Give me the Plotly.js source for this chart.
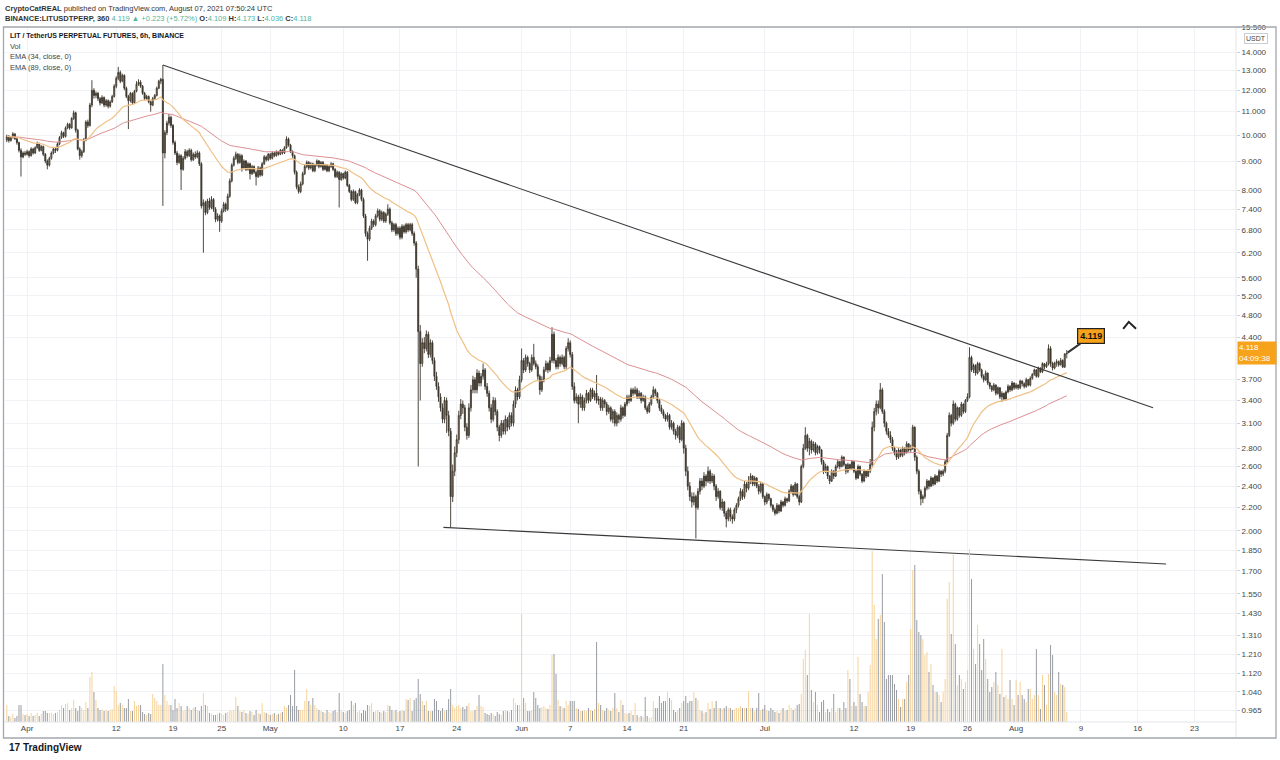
<!DOCTYPE html>
<html>
<head>
<meta charset="utf-8">
<script src="https://cdn.plot.ly/plotly-3.0.1.min.js"></script>
<style>html,body{margin:0;padding:0;background:#fff;}#chart{width:1280px;height:760px;}</style>
</head>
<body>
<div id="chart"></div>
<script>
// ---- DATA: LIT/USDT perpetual, 6h candles from 2021-03-29 12:00 UTC ----
const firstCandle = '2021-03-29T12:00:00Z';
const open = [
9.80,9.95, 9.78,9.90,10.05,9.85, 9.70,9.40,9.15,9.30, 9.25,9.35,9.20,9.45, 9.30,9.50,9.65,9.40,
9.55,9.25,9.00,8.85, 9.10,9.30,9.45,9.40, 9.65,9.90,10.10,9.95, 10.30,10.45,10.30,10.70, 10.95,10.20,9.45,9.20,
9.35,9.80,10.55,10.40, 11.30,12.00,11.75,11.85, 11.60,11.40,11.65,11.30, 11.50,11.25,11.45,11.70, 12.20,12.60,12.90,12.45,
12.75,12.10,11.70,11.50, 11.85,11.40,11.95,12.30, 12.40,12.20,11.85,11.60, 11.70,11.45,11.30,11.60, 11.75,12.10,12.45,12.55,
9.30,10.10,10.50,10.75, 10.40,9.70,9.30,8.95, 9.20,8.70,9.10,9.35, 9.20,9.40,9.05,9.25, 9.15,9.30,8.90,7.50,
7.60,7.30,7.65,7.45, 7.70,7.40,7.10,7.20, 7.05,7.35,7.55,7.40, 7.80,8.30,8.85,9.10, 9.25,8.95,9.20,8.75,
9.00,8.70,8.90,8.55, 8.80,8.60,8.45,8.75, 8.50,8.90,9.15,9.05, 9.25,9.10,9.30,9.20, 9.35,9.25,9.40,9.30,
9.50,9.85,9.60,9.35, 9.20,8.60,8.10,7.95, 8.20,8.55,8.80,8.95, 8.75,8.90,8.65,8.85, 9.00,8.80,8.95,8.70,
8.85,8.65,8.80,8.90, 8.70,8.45,8.60,8.35, 8.55,8.40,8.60,8.15, 7.95,7.70,7.95,7.60, 7.85,8.00,7.70,7.20,
6.70,6.55,6.85,7.05, 6.95,7.20,7.35,7.10, 7.30,7.05,7.25,7.40, 7.00,6.80,6.95,6.70, 6.85,6.60,6.90,6.75,
6.95,6.80,6.95,6.70, 6.45,5.80,4.50,3.95, 4.30,4.20,4.45,4.10, 4.30,4.00,3.75,3.60, 3.45,3.30,3.15,3.40,
3.20,3.00,2.30,2.55, 2.75,2.90,3.20,3.35, 3.30,3.05,2.95,3.30, 3.55,3.70,3.55,3.80, 3.65,3.75,3.85,3.60,
3.50,3.30,3.15,3.40, 3.25,3.05,2.95,3.10, 3.00,3.15,3.05,3.20, 3.10,3.35,3.55,3.45, 3.70,4.00,3.85,4.05,
3.95,3.85,4.05,3.95, 3.90,3.75,3.55,3.70, 3.85,3.95,3.85,4.00, 4.45,4.00,3.90,4.05, 3.95,4.05,3.90,4.20,
4.30,4.10,3.60,3.40, 3.45,3.35,3.45,3.30, 3.40,3.50,3.40,3.55, 3.45,3.50,3.40,3.42, 3.30,3.40,3.35,3.25,
3.30,3.15,3.25,3.10, 3.20,3.15,3.30,3.20, 3.35,3.45,3.40,3.55, 3.50,3.55,3.45,3.50, 3.40,3.45,3.30,3.25,
3.35,3.45,3.55,3.50, 3.40,3.30,3.25,3.20, 3.15,3.20,3.05,3.10, 3.00,2.95,3.05,2.90, 3.10,2.80,2.55,2.40,
2.30,2.25,2.30,2.20, 2.35,2.45,2.40,2.50, 2.45,2.55,2.45,2.50, 2.40,2.30,2.35,2.20, 2.25,2.15,2.10,2.18,
2.12,2.10,2.18,2.22, 2.28,2.35,2.30,2.42, 2.38,2.45,2.50,2.42, 2.48,2.40,2.35,2.42, 2.30,2.25,2.32,2.28,
2.22,2.18,2.15,2.22, 2.17,2.25,2.22,2.28, 2.26,2.35,2.40,2.32, 2.42,2.30,2.25,2.60, 2.80,2.95,2.80,2.88,
2.78,2.85,2.75,2.82, 2.78,2.65,2.55,2.60, 2.50,2.45,2.55,2.50, 2.60,2.65,2.60,2.70, 2.62,2.55,2.62,2.58,
2.65,2.55,2.48,2.60, 2.52,2.45,2.55,2.50, 2.55,2.62,3.05,3.25, 3.35,3.30,3.55,3.25, 3.10,3.00,2.95,2.90,
2.80,2.75,2.70,2.78, 2.72,2.80,2.75,2.85, 2.78,2.80,3.05,2.70, 2.55,2.35,2.28,2.30, 2.38,2.45,2.40,2.48,
2.42,2.50,2.45,2.55, 2.52,2.55,2.65,2.95, 3.20,3.10,3.35,3.15, 3.30,3.20,3.35,3.25, 3.40,3.45,4.05,3.85,
3.92,3.80,3.95,3.85, 3.75,3.70,3.80,3.65, 3.60,3.55,3.62,3.50, 3.58,3.45,3.50,3.42, 3.52,3.60,3.55,3.65,
3.58,3.62,3.58,3.68, 3.64,3.60,3.70,3.62, 3.72,3.78,3.85,3.75, 3.88,3.82,3.95,3.90, 3.94,4.20,3.95,3.88,
3.96,3.98,3.93,4.00, 3.896,4.109
];
const high = [
10.02,10.00, 9.95,10.12,10.08,9.88, 9.74,9.48,9.36,9.38, 9.42,9.40,9.52,9.50, 9.56,9.74,9.70,9.60,
9.58,9.30,9.06,9.16, 9.36,9.52,9.50,9.72, 9.96,10.18,10.14,10.36, 10.52,10.50,10.76,11.05, 11.00,10.26,9.52,9.42,
9.88,10.62,10.65,11.40, 12.50,12.10,11.95,11.92, 11.68,11.76,11.70,11.58, 11.56,11.52,11.78,12.30, 12.70,13.20,13.00,12.84,
12.80,12.18,11.78,11.92, 11.90,12.02,12.45,12.55, 12.50,12.26,11.92,11.78, 11.75,11.50,11.68,11.82, 12.18,12.52,12.62,13.30,
10.20,10.60,10.90,10.82, 10.46,9.78,9.38,9.28, 9.25,9.18,9.45,9.42, 9.48,9.46,9.32,9.36, 9.40,9.36,8.96,7.70,
7.66,7.72,7.75,7.80, 7.74,7.46,7.28,7.24, 7.42,7.62,7.60,7.88, 8.38,8.92,9.18,9.35, 9.30,9.28,9.25,9.06,
9.04,8.96,8.94,8.86, 8.84,8.66,8.82,8.80, 8.96,9.22,9.20,9.30, 9.30,9.36,9.34,9.40, 9.38,9.45,9.44,9.56,
9.95,9.90,9.65,9.40, 9.24,8.66,8.18,8.28, 8.62,8.86,9.02,9.00, 8.96,8.94,8.90,9.06, 9.04,9.00,9.00,8.90,
8.88,8.85,8.96,8.94, 8.74,8.66,8.64,8.60, 8.58,8.66,8.64,8.20, 8.00,8.02,7.98,7.90, 8.06,8.04,7.76,7.26,
6.76,6.92,7.12,7.10, 7.26,7.42,7.40,7.36, 7.34,7.30,7.55,7.45, 7.06,7.00,7.00,6.90, 6.90,6.96,6.95,7.00,
7.00,7.00,7.00,6.76, 6.50,5.88,4.62,4.38, 4.40,4.52,4.50,4.36, 4.34,4.05,3.82,3.66, 3.50,3.36,3.45,3.44,
3.26,3.04,2.62,2.82, 2.96,3.26,3.42,3.40, 3.34,3.10,3.36,3.62, 3.76,3.74,3.86,3.84, 3.80,3.95,3.88,3.65,
3.54,3.35,3.45,3.44, 3.28,3.08,3.14,3.14, 3.20,3.18,3.24,3.24, 3.40,3.60,3.58,3.76, 4.20,4.04,4.10,4.08,
3.98,4.10,4.28,4.00, 3.94,3.78,3.75,3.90, 4.00,3.98,4.06,4.58, 4.50,4.04,4.10,4.08, 4.10,4.08,4.24,4.38,
4.34,4.14,3.66,3.50, 3.48,3.50,3.48,3.44, 3.55,3.52,3.58,3.58, 3.54,3.77,3.46,3.45, 3.44,3.42,3.38,3.34,
3.32,3.28,3.28,3.24, 3.22,3.34,3.32,3.38, 3.48,3.48,3.58,3.58, 3.60,3.58,3.54,3.52, 3.48,3.47,3.33,3.38,
3.48,3.60,3.57,3.52, 3.42,3.34,3.28,3.22, 3.24,3.22,3.14,3.12, 3.03,3.08,3.07,3.14, 3.12,2.84,2.60,2.44,
2.34,2.34,2.32,2.38, 2.48,2.48,2.54,2.52, 2.60,2.57,2.53,2.52, 2.42,2.38,2.36,2.28, 2.26,2.17,2.20,2.20,
2.14,2.20,2.24,2.30, 2.38,2.37,2.45,2.44, 2.50,2.53,2.51,2.50, 2.49,2.42,2.44,2.43, 2.31,2.34,2.33,2.29,
2.23,2.20,2.24,2.23, 2.27,2.26,2.30,2.29, 2.37,2.42,2.41,2.44, 2.43,2.32,2.62,2.85, 3.05,2.97,2.92,2.90,
2.88,2.87,2.84,2.83, 2.79,2.67,2.63,2.61, 2.51,2.57,2.56,2.62, 2.67,2.66,2.72,2.71, 2.63,2.64,2.63,2.67,
2.66,2.56,2.62,2.61, 2.53,2.57,2.56,2.57, 2.68,3.12,3.30,3.40, 3.40,3.65,3.58,3.28, 3.12,3.04,3.00,2.93,
2.82,2.78,2.80,2.79, 2.82,2.81,2.88,2.86, 2.84,3.08,3.06,2.72, 2.57,2.37,2.32,2.40, 2.47,2.46,2.50,2.49,
2.52,2.51,2.57,2.56, 2.57,2.67,2.98,3.24, 3.22,3.40,3.37,3.32, 3.31,3.38,3.36,3.42, 3.50,4.22,4.08,3.95,
3.94,3.98,3.97,3.87, 3.78,3.84,3.81,3.67, 3.62,3.65,3.63,3.60, 3.59,3.53,3.51,3.54, 3.63,3.62,3.68,3.66,
3.65,3.63,3.70,3.69, 3.66,3.73,3.71,3.75, 3.80,3.87,3.86,3.90, 3.89,3.97,3.96,3.98, 4.27,4.24,3.98,3.98,
4.02,4.00,4.04,4.02, 4.12,4.173
];
const low = [
9.72,9.70, 9.74,9.86,9.80,9.62, 9.32,8.45,9.10,9.18, 9.20,9.12,9.16,9.24, 9.26,9.46,9.34,9.36,
9.18,8.92,8.70,8.80, 9.05,9.25,9.30,9.36, 9.60,9.85,9.88,9.90, 10.24,10.22,10.26,10.64, 10.10,9.40,9.05,9.12,
9.30,9.75,10.30,10.35, 11.20,11.60,11.62,11.48, 11.28,11.35,11.20,11.22, 11.15,11.18,11.40,11.65, 12.10,12.50,12.35,12.40,
12.00,11.62,10.25,11.42, 11.32,11.36,11.90,12.22, 12.12,11.78,11.52,11.54, 11.38,11.00,11.25,11.55, 11.70,12.05,12.30,7.50,
9.10,10.00,10.40,10.30, 9.62,9.22,8.85,8.90, 8.00,8.65,9.05,9.12, 9.15,8.98,9.00,9.08, 9.10,8.82,7.42,6.20,
7.22,7.25,7.38,7.40, 7.32,7.02,7.04,6.75, 7.00,7.30,7.32,7.35, 7.75,8.25,8.80,9.04, 8.88,8.90,8.62,8.70,
8.64,8.65,8.35,8.50, 8.54,8.15,8.40,8.44, 8.46,8.86,8.98,9.00, 9.04,9.06,9.14,9.16, 9.20,9.22,9.24,9.26,
9.46,9.54,9.30,9.12, 8.52,8.02,7.88,7.90, 8.15,8.50,8.74,8.68, 8.70,8.60,8.60,8.80, 8.74,8.76,8.64,8.66,
8.60,8.60,8.75,8.64, 8.40,8.40,7.45,8.30, 8.34,8.36,8.10,7.90, 7.64,7.65,7.55,7.55, 7.80,7.64,7.14,6.62,
6.00,6.50,6.80,6.88, 6.90,7.15,7.04,7.05, 7.00,7.00,7.20,6.95, 6.74,6.75,6.64,6.65, 6.54,6.55,6.70,6.70,
6.74,6.76,6.64,6.38, 5.60,2.60,3.40,3.90, 4.12,4.15,4.04,4.05, 3.94,3.68,3.55,3.38, 3.25,3.10,3.10,2.98,
2.94,2.03,2.25,2.50, 2.70,2.85,3.15,3.22, 3.00,2.90,2.92,3.25, 3.50,3.50,3.50,3.60, 3.60,3.70,3.55,3.45,
3.25,3.10,3.12,3.20, 3.00,2.88,2.92,2.96, 2.96,3.00,3.02,3.06, 3.06,3.30,3.40,3.42, 3.66,3.80,3.82,3.90,
3.80,3.82,3.92,3.86, 3.70,3.48,3.52,3.66, 3.82,3.80,3.82,3.96, 3.95,3.86,3.86,3.90, 3.92,3.86,3.86,4.15,
4.05,3.55,3.36,3.36, 3.10,3.30,3.26,3.26, 3.36,3.36,3.38,3.42, 3.40,3.36,3.34,3.26, 3.26,3.30,3.20,3.22,
3.12,3.10,3.06,3.06, 3.10,3.12,3.16,3.18, 3.32,3.36,3.38,3.46, 3.48,3.42,3.42,3.36, 3.38,3.27,3.22,3.23,
3.33,3.42,3.46,3.36, 3.26,3.22,3.16,3.12, 3.12,3.02,3.02,2.96, 2.90,2.92,2.86,2.88, 2.74,2.50,2.36,2.26,
2.20,2.22,1.94,2.18, 2.32,2.36,2.38,2.40, 2.43,2.42,2.43,2.36, 2.26,2.28,2.18,2.17, 2.12,2.03,2.08,2.08,
2.06,2.08,2.15,2.20, 2.26,2.27,2.28,2.34, 2.36,2.42,2.40,2.40, 2.38,2.32,2.33,2.28, 2.22,2.23,2.26,2.20,
2.16,2.13,2.14,2.15, 2.16,2.20,2.21,2.24, 2.25,2.33,2.30,2.31, 2.28,2.22,2.24,2.58, 2.78,2.76,2.72,2.74,
2.76,2.72,2.73,2.74, 2.62,2.52,2.53,2.47, 2.42,2.44,2.47,2.49, 2.58,2.57,2.59,2.60, 2.52,2.53,2.56,2.57,
2.53,2.46,2.47,2.50, 2.43,2.44,2.48,2.49, 2.53,2.60,3.00,3.20, 3.22,3.28,3.22,3.05, 2.96,2.92,2.86,2.77,
2.72,2.67,2.68,2.70, 2.70,2.72,2.74,2.76, 2.76,2.78,2.66,2.52, 2.32,2.22,2.24,2.28, 2.36,2.37,2.39,2.40,
2.41,2.43,2.44,2.49, 2.50,2.53,2.63,2.93, 3.06,3.08,3.12,3.13, 3.17,3.18,3.22,3.23, 3.38,3.43,3.82,3.80,
3.76,3.78,3.82,3.72, 3.66,3.68,3.62,3.56, 3.52,3.53,3.47,3.48, 3.42,3.38,3.40,3.40, 3.50,3.52,3.53,3.55,
3.56,3.55,3.56,3.60, 3.57,3.58,3.60,3.60, 3.70,3.76,3.73,3.73, 3.80,3.80,3.86,3.88, 3.92,3.90,3.84,3.86,
3.90,3.90,3.92,3.88, 3.88,4.036
];
const close = [
9.95,9.78, 9.90,10.05,9.85,9.70, 9.40,9.15,9.30,9.25, 9.35,9.20,9.45,9.30, 9.50,9.65,9.40,9.55,
9.25,9.00,8.85,9.10, 9.30,9.45,9.40,9.65, 9.90,10.10,9.95,10.30, 10.45,10.30,10.70,10.95, 10.20,9.45,9.20,9.35,
9.80,10.55,10.40,11.30, 12.00,11.75,11.85,11.60, 11.40,11.65,11.30,11.50, 11.25,11.45,11.70,12.20, 12.60,12.90,12.45,12.75,
12.10,11.70,11.50,11.85, 11.40,11.95,12.30,12.40, 12.20,11.85,11.60,11.70, 11.45,11.30,11.60,11.75, 12.10,12.45,12.55,9.30,
10.10,10.50,10.75,10.40, 9.70,9.30,8.95,9.20, 8.70,9.10,9.35,9.20, 9.40,9.05,9.25,9.15, 9.30,8.90,7.50,7.60,
7.30,7.65,7.45,7.70, 7.40,7.10,7.20,7.05, 7.35,7.55,7.40,7.80, 8.30,8.85,9.10,9.25, 8.95,9.20,8.75,9.00,
8.70,8.90,8.55,8.80, 8.60,8.45,8.75,8.50, 8.90,9.15,9.05,9.25, 9.10,9.30,9.20,9.35, 9.25,9.40,9.30,9.50,
9.85,9.60,9.35,9.20, 8.60,8.10,7.95,8.20, 8.55,8.80,8.95,8.75, 8.90,8.65,8.85,9.00, 8.80,8.95,8.70,8.85,
8.65,8.80,8.90,8.70, 8.45,8.60,8.35,8.55, 8.40,8.60,8.15,7.95, 7.70,7.95,7.60,7.85, 8.00,7.70,7.20,6.70,
6.55,6.85,7.05,6.95, 7.20,7.35,7.10,7.30, 7.05,7.25,7.40,7.00, 6.80,6.95,6.70,6.85, 6.60,6.90,6.75,6.95,
6.80,6.95,6.70,6.45, 5.80,4.50,3.95,4.30, 4.20,4.45,4.10,4.30, 4.00,3.75,3.60,3.45, 3.30,3.15,3.40,3.20,
3.00,2.30,2.55,2.75, 2.90,3.20,3.35,3.30, 3.05,2.95,3.30,3.55, 3.70,3.55,3.80,3.65, 3.75,3.85,3.60,3.50,
3.30,3.15,3.40,3.25, 3.05,2.95,3.10,3.00, 3.15,3.05,3.20,3.10, 3.35,3.55,3.45,3.70, 4.00,3.85,4.05,3.95,
3.85,4.05,3.95,3.90, 3.75,3.55,3.70,3.85, 3.95,3.85,4.00,4.45, 4.00,3.90,4.05,3.95, 4.05,3.90,4.20,4.30,
4.10,3.60,3.40,3.45, 3.35,3.45,3.30,3.40, 3.50,3.40,3.55,3.45, 3.50,3.40,3.42,3.30, 3.40,3.35,3.25,3.30,
3.15,3.25,3.10,3.20, 3.15,3.30,3.20,3.35, 3.45,3.40,3.55,3.50, 3.55,3.45,3.50,3.40, 3.45,3.30,3.25,3.35,
3.45,3.55,3.50,3.40, 3.30,3.25,3.20,3.15, 3.20,3.05,3.10,3.00, 2.95,3.05,2.90,3.10, 2.80,2.55,2.40,2.30,
2.25,2.30,2.20,2.35, 2.45,2.40,2.50,2.45, 2.55,2.45,2.50,2.40, 2.30,2.35,2.20,2.25, 2.15,2.10,2.18,2.12,
2.10,2.18,2.22,2.28, 2.35,2.30,2.42,2.38, 2.45,2.50,2.42,2.48, 2.40,2.35,2.42,2.30, 2.25,2.32,2.28,2.22,
2.18,2.15,2.22,2.17, 2.25,2.22,2.28,2.26, 2.35,2.40,2.32,2.42, 2.30,2.25,2.60,2.80, 2.95,2.80,2.88,2.78,
2.85,2.75,2.82,2.78, 2.65,2.55,2.60,2.50, 2.45,2.55,2.50,2.60, 2.65,2.60,2.70,2.62, 2.55,2.62,2.58,2.65,
2.55,2.48,2.60,2.52, 2.45,2.55,2.50,2.55, 2.62,3.05,3.25,3.35, 3.30,3.55,3.25,3.10, 3.00,2.95,2.90,2.80,
2.75,2.70,2.78,2.72, 2.80,2.75,2.85,2.78, 2.80,3.05,2.70,2.55, 2.35,2.28,2.30,2.38, 2.45,2.40,2.48,2.42,
2.50,2.45,2.55,2.52, 2.55,2.65,2.95,3.20, 3.10,3.35,3.15,3.30, 3.20,3.35,3.25,3.40, 3.45,4.05,3.85,3.92,
3.80,3.95,3.85,3.75, 3.70,3.80,3.65,3.60, 3.55,3.62,3.50,3.58, 3.45,3.50,3.42,3.52, 3.60,3.55,3.65,3.58,
3.62,3.58,3.68,3.64, 3.60,3.70,3.62,3.72, 3.78,3.85,3.75,3.88, 3.82,3.95,3.90,3.94, 4.20,3.95,3.88,3.96,
3.98,3.93,4.00,3.896, 4.109,4.118
];
const volume = [
17,6, 5,8,4,6, 17,17,8,7, 8,6,9,6, 7,9,6,8,
11,11,9,9, 9,8,9,10, 12,17,14,18, 19,12,14,22, 14,11,16,14,
12,20,14,45, 50,30,22,14, 12,13,11,12, 11,12,13,36, 31,17,19,17,
14,14,23,11, 11,21,16,17, 17,10,8,7, 9,8,28,24, 21,17,17,58,
27,21,17,17, 12,23,14,19, 16,11,12,16, 14,12,14,15, 12,11,16,29,
17,16,9,8, 7,7,8,9, 8,7,9,10, 12,11,12,25, 16,11,10,12,
9,8,11,10, 7,12,9,8, 19,10,9,8, 7,8,9,7, 8,9,10,16,
14,17,27,16, 52,16,12,12, 12,21,33,21, 17,24,17,14, 12,11,10,9,
12,10,9,11, 12,10,29,12, 10,9,11,12, 21,17,19,10, 11,9,12,11,
17,16,19,10, 11,12,10,9, 11,10,17,16, 12,11,12,10, 11,12,11,23,
22,24,11,22, 24,43,28,21, 17,21,11,11, 11,23,21,12, 11,14,11,12,
23,33,17,14, 16,17,14,15, 13,16,19,11, 11,12,16,27, 16,15,9,8,
7,9,8,6, 10,8,7,11, 12,11,10,12, 24,19,17,17, 108,24,19,11,
11,12,30,24, 17,14,15,16, 14,13,17,67, 68,48,22,16, 15,14,21,17,
21,21,21,14, 13,11,11,12, 11,14,12,11, 13,80,19,17, 12,11,14,12,
11,14,29,14, 10,22,17,9, 8,9,11,7, 19,7,5,6, 5,25,6,4,
5,21,14,14, 26,19,21,21, 30,24,22,12, 10,12,14,19, 21,26,19,21,
21,30,24,22, 12,11,9,10, 19,13,21,14, 21,14,14,13, 14,16,14,14,
12,13,14,14, 16,14,14,14, 31,14,14,11, 14,29,12,13, 17,12,11,14,
12,10,11,9, 12,14,11,12, 17,14,12,14, 17,18,28,63, 72,47,108,32,
20,30,17,10, 20,22,10,13, 10,14,28,10, 14,14,12,20, 14,52,43,16,
20,16,65,28, 20,16,16,30, 57,171,117,83, 103,107,148,100, 43,47,47,47,
38,32,23,15, 23,23,40,47, 93,152,157,102, 90,87,83,67, 70,50,58,37,
30,30,27,20, 30,43,123,140, 88,167,78,37, 47,43,33,40, 52,173,143,73,
58,97,78,52, 83,63,43,30, 35,40,50,37, 28,73,25,27, 23,42,23,17,
42,27,40,27, 23,20,33,33, 23,27,73,27, 13,47,37,17, 48,77,67,30,
27,50,38,37, 35,10
];

// drawn trend lines and marker (chart drawings)
const upperLineX = ['2021-04-17 18:00', '2021-08-17 21:30'];
const upperLineY = [13.30, 3.30];
const lowerLineX = ['2021-05-22 08:40', '2021-08-19 12:00'];
const lowerLineY = [2.03, 1.749];
const caretX = ['2021-08-14 05:00', '2021-08-14 21:30', '2021-08-15 19:00'];
const caretY = [4.55, 4.68, 4.55];

// axis ticks
const priceTicks = [0.965,1.04,1.12,1.21,1.31,1.43,1.55,1.70,1.85,2.0,2.2,2.4,2.6,2.8,3.1,3.4,3.7,4.4,4.8,5.2,5.6,6.2,6.8,7.4,8.0,9.0,10,11,12,13,14,15.5];
const dateTicks = ['2021-04-01','2021-04-12','2021-04-19','2021-04-25','2021-05-01','2021-05-10','2021-05-17','2021-05-24','2021-06-01','2021-06-07','2021-06-14','2021-06-21','2021-07-01','2021-07-12','2021-07-19','2021-07-26','2021-08-01','2021-08-09','2021-08-16','2021-08-23'];
const dateLabels = ['Apr','12','19','25','May','10','17','24','Jun','7','14','21','Jul','12','19','26','Aug','9','16','23'];

const lastPrice = 4.118;
const lastLabel = '4.119';
const countdown = '04:09:38';

// ---- BUILD ----
const t0 = Date.parse(firstCandle);
const times = close.map((_, i) => new Date(t0 + i * 6 * 3600e3).toISOString().slice(0, 16).replace('T', ' '));

function ema(arr, n) {
  const a = 2 / (n + 1);
  let e = arr[0];
  return arr.map(v => (e = a * v + (1 - a) * e));
}
const ema34 = ema(close, 34);
const ema89 = ema(close, 89);
const volColors = close.map((c, i) => c >= open[i] ? 'rgba(244,203,138,0.85)' : 'rgba(128,132,140,0.8)');

// pixel helpers for paper-positioned text (plot area: x 5..1236, y 27..722)
const PL = 5, PR = 1236, PT = 27, PB = 722;
const px = x => (x - PL) / (PR - PL);
const py = y => (PB - y) / (PB - PT);

const traces = [
  { type: 'bar', x: times, y: volume, yaxis: 'y2', marker: { color: volColors, line: { width: 0 } },
    width: 6 * 3600e3 * 0.5, hoverinfo: 'skip' },
  { type: 'scatter', mode: 'lines', x: times, y: ema89, line: { color: '#dd9093', width: 1 }, hoverinfo: 'skip' },
  { type: 'scatter', mode: 'lines', x: times, y: ema34, line: { color: '#f0c085', width: 1.2 }, hoverinfo: 'skip' },
  { type: 'candlestick', x: times, open: open, high: high, low: low, close: close, whiskerwidth: 0,
    increasing: { line: { color: '#3a342b', width: 0.9 }, fillcolor: '#b29c74' },
    decreasing: { line: { color: '#3a342b', width: 0.9 }, fillcolor: '#3a342b' }, hoverinfo: 'skip' },
  { type: 'scatter', mode: 'lines', x: upperLineX, y: upperLineY, line: { color: '#3a3a3a', width: 1.1 }, hoverinfo: 'skip' },
  { type: 'scatter', mode: 'lines', x: lowerLineX, y: lowerLineY, line: { color: '#3a3a3a', width: 1.1 }, hoverinfo: 'skip' },
  { type: 'scatter', mode: 'lines', x: caretX, y: caretY, line: { color: '#222', width: 2 }, hoverinfo: 'skip' }
];

const teal = '#52b49c';
const layout = {
  width: 1280, height: 760,
  margin: { l: PL, r: 1280 - PR, t: PT, b: 760 - PB },
  paper_bgcolor: '#ffffff', plot_bgcolor: '#ffffff',
  font: { family: 'Liberation Sans, Arial, sans-serif', size: 8, color: '#131722' },
  showlegend: false, hovermode: false,
  xaxis: {
    type: 'date', range: ['2021-03-29 06:40', '2021-08-28 03:00'],
    rangeslider: { visible: false },
    tickmode: 'array', tickvals: dateTicks, ticktext: dateLabels,
    showgrid: true, gridcolor: '#f0f2f5', gridwidth: 1, zeroline: false,
    ticks: '', tickfont: { size: 8, color: '#444' }, showline: false, fixedrange: true
  },
  yaxis: {
    type: 'log', side: 'right', range: [Math.log10(0.92), Math.log10(15.52)],
    tickmode: 'array', tickvals: priceTicks, ticktext: priceTicks.map(v => v.toFixed(3)),
    showgrid: true, gridcolor: '#f0f2f5', gridwidth: 1, zeroline: false,
    ticks: 'outside', ticklen: 3, tickcolor: '#cfd1d6', tickfont: { size: 8, color: '#444' },
    showline: false, fixedrange: true
  },
  yaxis2: { overlaying: 'y', side: 'right', range: [0, PB - PT], visible: false, fixedrange: true },
  shapes: [
    { type: 'line', xref: 'paper', yref: 'paper', x0: 1, x1: 1, y0: py(738), y1: 1, line: { color: '#e3e5ea', width: 1 } },
    { type: 'line', xref: 'paper', yref: 'paper', x0: px(3.5), x1: 1, y0: 0, y1: 0, line: { color: '#e3e5ea', width: 1 } },
    { type: 'rect', xref: 'paper', yref: 'paper', x0: px(3.5), x1: px(1276), y0: py(738), y1: 1, line: { color: '#a3a6ad', width: 1.3 }, fillcolor: 'rgba(0,0,0,0)' }
  ],
  annotations: [
    { xref: 'paper', yref: 'paper', x: px(3), y: py(8), xanchor: 'left', yanchor: 'middle', showarrow: false,
      font: { size: 7.5, color: '#333' },
      text: '<b>CryptoCatREAL</b> published on TradingView.com, August 07, 2021 07:50:24 UTC' },
    { xref: 'paper', yref: 'paper', x: px(3), y: py(19), xanchor: 'left', yanchor: 'middle', showarrow: false,
      font: { size: 7.5, color: '#333' },
      text: '<b>BINANCE:LITUSDTPERP, 360</b> <span style="color:' + teal + '">4.119 ▲ +0.223 (+5.72%)</span> <b>O:</b><span style="color:' + teal + '">4.109</span> <b>H:</b><span style="color:' + teal + '">4.173</span> <b>L:</b><span style="color:' + teal + '">4.036</span> <b>C:</b><span style="color:' + teal + '">4.118</span>' },
    { xref: 'paper', yref: 'paper', x: px(8), y: py(36), xanchor: 'left', yanchor: 'middle', showarrow: false,
      font: { size: 7, color: '#131722' }, text: '<b>LIT / TetherUS PERPETUAL FUTURES, 6h, BINANCE</b>' },
    { xref: 'paper', yref: 'paper', x: px(8), y: py(46.5), xanchor: 'left', yanchor: 'middle', showarrow: false,
      font: { size: 7.5, color: '#444' }, text: 'Vol' },
    { xref: 'paper', yref: 'paper', x: px(8), y: py(57), xanchor: 'left', yanchor: 'middle', showarrow: false,
      font: { size: 7.5, color: '#444' }, text: 'EMA (34, close, 0)' },
    { xref: 'paper', yref: 'paper', x: px(8), y: py(67.5), xanchor: 'left', yanchor: 'middle', showarrow: false,
      font: { size: 7.5, color: '#444' }, text: 'EMA (89, close, 0)' },
    { xref: 'paper', yref: 'paper', x: px(1256), y: py(38), xanchor: 'center', yanchor: 'middle', showarrow: false,
      font: { size: 7, color: '#444' }, text: 'USDT', bgcolor: '#ffffff', bordercolor: '#c9ccd2', borderwidth: 1, borderpad: 1 },
    { xref: 'paper', yref: 'y', x: px(1237), y: Math.log10(lastPrice), xanchor: 'left', yanchor: 'middle', showarrow: false,
      font: { size: 8, color: '#ffffff' }, align: 'left', text: lastPrice.toFixed(3) + '<br>' + countdown,
      bgcolor: '#f7a21b', borderpad: 1, width: 36, height: 20 },
    { xref: 'x', yref: 'y', x: times[times.length - 1], y: Math.log10(4.12), ax: 24, ay: -17,
      showarrow: true, arrowhead: 0, arrowwidth: 2, arrowcolor: '#333', standoff: 1,
      text: '<b>' + lastLabel + '</b>', font: { size: 9, color: '#111' },
      bgcolor: '#f7a21b', bordercolor: '#222', borderwidth: 1.2, borderpad: 2 },
    { xref: 'paper', yref: 'paper', x: px(7), y: py(748), xanchor: 'left', yanchor: 'middle', showarrow: false,
      font: { size: 10, color: '#131722' }, text: '<b>17</b> <b>TradingView</b>' }
  ]
};

Plotly.newPlot('chart', traces, layout, { staticPlot: true, displayModeBar: false });
</script>
</body>
</html>
